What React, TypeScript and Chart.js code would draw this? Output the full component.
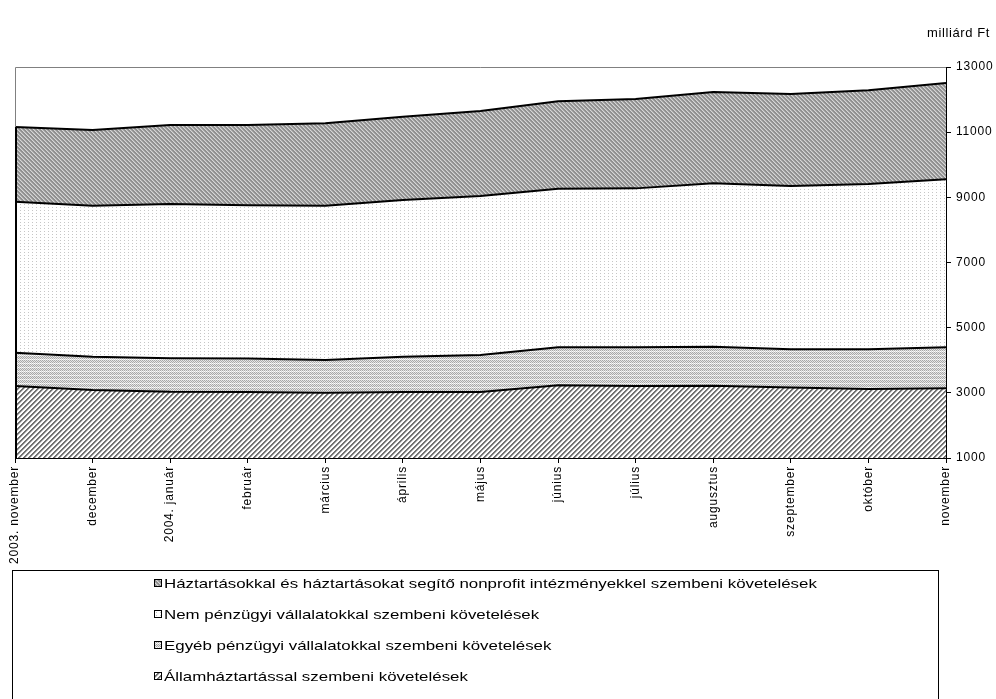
import { useEffect, useRef } from 'react';
import { Chart, registerables } from 'chart.js';

Chart.register(...registerables);

// hónapok (x tengely)
const honapok = [
  '2003. november',
  'december',
  '2004. január',
  'február',
  'március',
  'április',
  'május',
  'június',
  'július',
  'augusztus',
  'szeptember',
  'október',
  'november',
];

// milliárd Ft, alulról felfelé halmozva
const allamhaztartas = [3210, 3090, 3030, 3025, 3000, 3025, 3025, 3230, 3210, 3220, 3160, 3120, 3140];
const egyebPenzugyi = [1020, 1020, 1030, 1030, 1010, 1085, 1135, 1170, 1190, 1195, 1175, 1215, 1260];
const nemPenzugyi = [4635, 4635, 4735, 4700, 4735, 4810, 4880, 4865, 4875, 5015, 5015, 5075, 5155];
const haztartasok = [2295, 2320, 2425, 2465, 2525, 2555, 2610, 2685, 2745, 2800, 2820, 2880, 2955];

const sorozatNevek = [
  'Államháztartással szembeni követelések',
  'Egyéb pénzügyi vállalatokkal szembeni követelések',
  'Nem pénzügyi vállalatokkal szembeni követelések',
  'Háztartásokkal és háztartásokat segítő nonprofit intézményekkel szembeni követelések',
];

const yMin = 1000;
const yMax = 13000;
const yLepes = 2000;
const egyseg = 'milliárd Ft';

const FONT = '"Liberation Sans", Arial, sans-serif';

function minta(w: number, h: number, szin: (x: number, y: number) => string) {
  const c = document.createElement('canvas');
  c.width = w;
  c.height = h;
  const g = c.getContext('2d')!;
  for (let y = 0; y < h; y++) {
    for (let x = 0; x < w; x++) {
      g.fillStyle = szin(x, y);
      g.fillRect(x, y, 1, 1);
    }
  }
  return g.createPattern(c, 'repeat')!;
}

export default function App() {
  const canvasRef = useRef<HTMLCanvasElement>(null);

  useEffect(() => {
    if (!canvasRef.current) return;
    const ctx = canvasRef.current.getContext('2d');
    if (!ctx) return;

    const allamMinta = minta(5, 5, (x, y) => {
      const k = (x + y) % 5;
      return k < 2 ? '#737373' : k === 2 ? '#c8c8c8' : '#ffffff';
    });
    const egyebMinta = minta(4, 4, (x, y) =>
      y === 3 ? (x % 2 === 0 ? '#ffffff' : '#d4d4d4') : (x + y) % 2 === 0 ? '#a8a8a8' : '#e6e6e6'
    );
    const nemMinta = minta(4, 3, (x, y) => (x === 0 && y === 0 ? '#c6c6c6' : '#ffffff'));
    const haztMinta = minta(4, 4, (x, y) => {
      const k = (x - y + 8) % 4;
      return k === 0 ? '#d6d6d6' : k === 1 ? '#b0b0b0' : '#909090';
    });
    const mintak = [allamMinta, egyebMinta, nemMinta, haztMinta];
    const adatok = [allamhaztartas, egyebPenzugyi, nemPenzugyi, haztartasok];

    const rajz = {
      id: 'rajz',
      beforeDraw(chart: Chart) {
        (chart.ctx as any).letterSpacing = '0.8px';
      },
      afterDraw(chart: Chart) {
        const c = chart.ctx;
        const { left, right, top, bottom } = chart.chartArea;
        const ys = chart.scales.y;
        c.save();
        // plot terület kerete (szürke)
        c.strokeStyle = '#808080';
        c.lineWidth = 1;
        c.beginPath();
        c.moveTo(left + 0.5, bottom);
        c.lineTo(left + 0.5, top + 0.5);
        c.lineTo(right, top + 0.5);
        c.stroke();
        // területek bal széle (fekete)
        const osszeg = adatok.reduce((s, a) => s + a[0], 0);
        c.strokeStyle = '#000';
        c.lineWidth = 2;
        c.beginPath();
        c.moveTo(left + 1, ys.getPixelForValue(osszeg));
        c.lineTo(left + 1, bottom);
        c.stroke();

        // mértékegység
        (c as any).letterSpacing = '0.6px';
        c.fillStyle = '#000';
        c.font = `13px ${FONT}`;
        c.textAlign = 'right';
        c.textBaseline = 'middle';
        c.fillText(egyseg, 990, 33);

        // jelmagyarázat
        c.lineWidth = 1;
        c.strokeStyle = '#000';
        c.strokeRect(12.5, 570.5, 926, 150);
        (c as any).letterSpacing = '0px';
        c.textAlign = 'left';
        for (let i = 0; i < 4; i++) {
          const idx = 3 - i;
          const yc = 583 + i * 31;
          c.fillStyle = mintak[idx];
          c.fillRect(154, yc - 4, 8, 8);
          c.strokeRect(154.5, yc - 3.5, 7, 7);
          c.fillStyle = '#000';
          c.save();
          c.translate(164, yc + 1);
          c.scale(1.25, 1);
          c.font = `13.5px ${FONT}`;
          c.fillText(sorozatNevek[idx], 0, 0);
          c.restore();
        }
        c.restore();
      },
    };

    const chart = new Chart(ctx, {
      type: 'line',
      data: {
        labels: honapok,
        datasets: adatok.map((d, i) => ({
          label: sorozatNevek[i],
          data: d,
          backgroundColor: mintak[i],
          borderColor: '#000',
          borderWidth: 2,
          fill: i === 0 ? 'origin' : '-1',
          pointRadius: 0,
          tension: 0,
        })),
      },
      options: {
        animation: false,
        responsive: false,
        layout: { padding: { left: 15, top: 67, right: 0, bottom: 0 } },
        plugins: { legend: { display: false }, tooltip: { enabled: false } },
        scales: {
          x: {
            offset: false,
            grid: { drawOnChartArea: false, drawTicks: true, tickLength: 5, color: '#000' },
            border: { color: '#000', width: 1 },
            ticks: {
              autoSkip: false,
              minRotation: 90,
              maxRotation: 90,
              padding: 3,
              color: '#000',
              font: { family: FONT, size: 12 },
            },
            afterFit: (s: any) => {
              s.height = 241;
            },
          },
          y: {
            position: 'right',
            stacked: true,
            min: yMin,
            max: yMax,
            ticks: {
              stepSize: yLepes,
              padding: 5,
              color: '#000',
              font: { family: FONT, size: 12 },
              callback: (v: any) => String(v),
            },
            grid: { drawOnChartArea: false, drawTicks: true, tickLength: 5, color: '#000' },
            border: { color: '#000', width: 1 },
            afterFit: (s: any) => {
              s.width = 50;
            },
          },
        },
      },
      plugins: [rajz],
    });

    return () => {
      chart.destroy();
    };
  }, []);

  return (
    <div style={{ position: 'absolute', left: 0, top: 0, width: 996, height: 699, background: '#fff', overflow: 'hidden' }}>
      <canvas ref={canvasRef} width={996} height={699} />
    </div>
  );
}
